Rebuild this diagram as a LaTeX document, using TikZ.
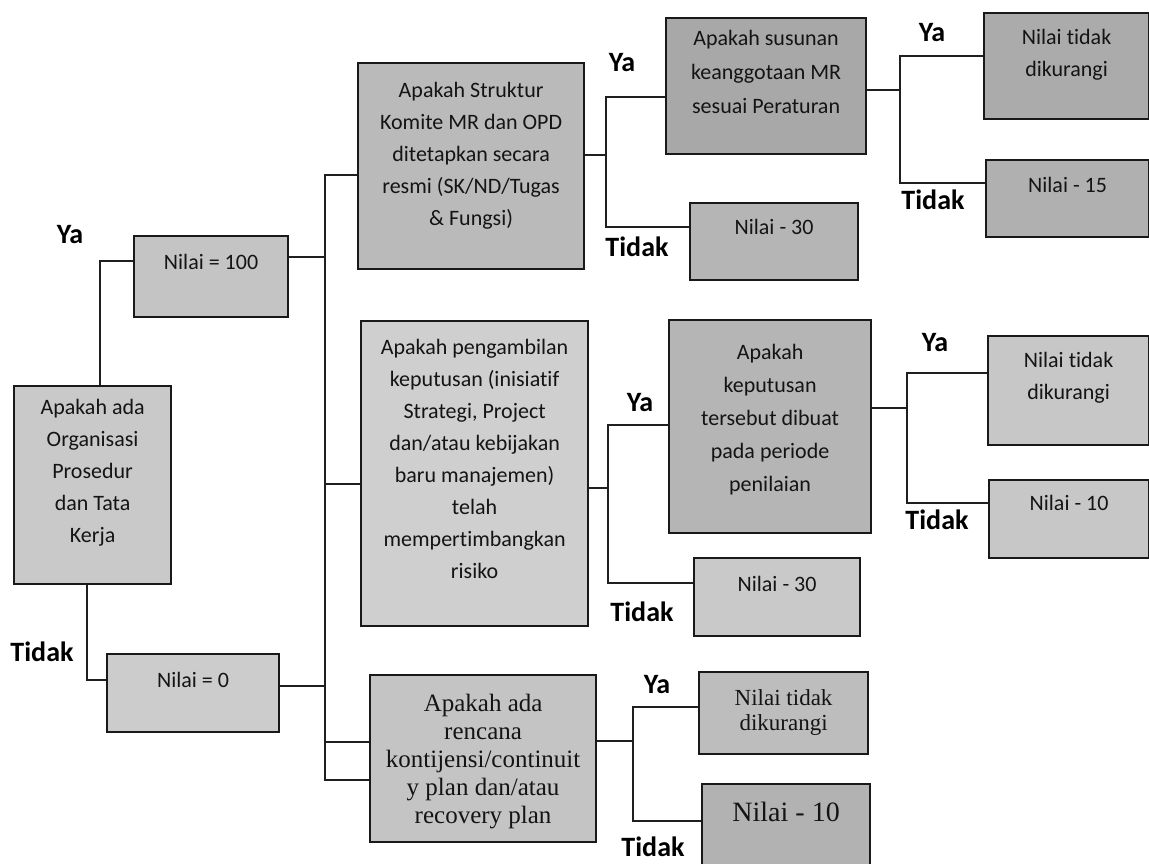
\documentclass[tikz,border=0pt]{standalone}
\usepackage{fontspec}
\setmainfont{Carlito}[Ligatures={NoCommon,NoContextual},Contextuals={NoAlternate}]
\newfontfamily\serifbox{Liberation Serif}
\usetikzlibrary{calc}
\newcommand{\bxt}[5]{\parbox[c][#2][t]{#1}{\centering#4\rule{0pt}{#3}#5\par}}
\newcommand{\fC}{\fontsize{22}{32}\selectfont}
\newcommand{\fK}{\fontsize{22}{33}\selectfont}
\tikzset{
  bnode/.style={draw=black!90, line width=2.2pt, inner sep=0pt, anchor=north west, fill=#1, text=black!92},
  conn/.style={draw=black!88, line width=2pt, line join=miter},
  lbl/.style={font=\fontsize{28}{30}\selectfont\bfseries, inner sep=0pt, text=black}
}
\begin{document}
\begin{tikzpicture}[x=1pt,y=-1pt]
\useasboundingbox (0,0) rectangle (1149,864);
\clip (0,0) rectangle (1149,864);
\fill[white] (0,0) rectangle (1149,864);

% boxes
\node[bnode=black!21] (A) at (13,385) {\bxt{157pt}{198pt}{28pt}{\fC}{Apakah ada\\Organisasi\\Prosedur\\dan Tata\\Kerja}};
\node[bnode=black!23] (N100) at (133,235) {\bxt{154pt}{81pt}{33pt}{\fC}{Nilai = 100}};
\node[bnode=black!20] (N0) at (106,653) {\bxt{172pt}{78pt}{33pt}{\fC}{Nilai = 0}};
\node[bnode=black!27] (S) at (357,62) {\bxt{226pt}{206pt}{34pt}{\fC}{Apakah Struktur\\Komite MR dan OPD\\ditetapkan secara\\resmi (SK/ND/Tugas\\\& Fungsi)}};
\node[bnode=black!34] (Su) at (665,17) {\bxt{200pt}{136pt}{27pt}{\fontsize{22}{34}\selectfont}{Apakah susunan\\keanggotaan MR\\sesuai Peraturan}};
\node[bnode=black!33] (NTa) at (983,12) {\bxt{165pt}{106pt}{31pt}{\fC}{Nilai t\kern0pt idak\\dikurangi}};
\node[bnode=black!31] (N15) at (985,159) {\bxt{163pt}{77pt}{32pt}{\fC}{Nilai - 15}};
\node[bnode=black!29] (N30a) at (689,202) {\bxt{168pt}{77pt}{31pt}{\fC}{Nilai - 30}};
\node[bnode=black!19] (P) at (360,320) {\bxt{227pt}{305pt}{33pt}{\fC}{Apakah pengambilan\\keputusan (inisiat\kern0pt if\\Strategi, Project\\dan/atau kebijakan\\baru manajemen)\\telah\\mempert\kern0pt imbangkan\\risiko}};
\node[bnode=black!29] (K) at (668,319) {\bxt{202pt}{213pt}{39pt}{\fK}{Apakah\\keputusan\\tersebut dibuat\\pada periode\\penilaian}};
\node[bnode=black!22] (NTb) at (987,335) {\bxt{161pt}{109pt}{31pt}{\fC}{Nilai t\kern0pt idak\\dikurangi}};
\node[bnode=black!22] (N10a) at (988,479) {\bxt{160pt}{78pt}{30pt}{\fC}{Nilai - 10}};
\node[bnode=black!21] (N30b) at (693,557) {\bxt{166pt}{78pt}{33pt}{\fC}{Nilai - 30}};
\node[bnode=black!23] (R) at (369,674) {\bxt{226pt}{167pt}{36pt}{\serifbox\fontsize{25}{28}\selectfont}{Apakah ada\\rencana\\kontijensi/continuit\\y plan dan/atau\\recovery plan}};
\node[bnode=black!26] (NTc) at (698,671) {\bxt{169pt}{82pt}{33pt}{\serifbox\fontsize{23}{25}\selectfont}{Nilai tidak\\dikurangi}};
\node[bnode=black!30] (N10b) at (701,783) {\bxt{168pt}{95pt}{37pt}{\serifbox\fontsize{28}{30}\selectfont}{Nilai - 10}};

% labels
\node[lbl] (lY0) at (70,235) {Ya};
\node[lbl] (lT0) at (42,652) {Tidak};
\node[lbl] (lY1) at (622,63) {Ya};
\node[lbl] (lT1) at (637,247) {Tidak};
\node[lbl] (lY2) at (932,33) {Ya};
\node[lbl] (lT2) at (933,200) {Tidak};
\node[lbl] (lY3) at (640,403) {Ya};
\node[lbl] (lT3) at (642,612) {Tidak};
\node[lbl] (lY4) at (935,343) {Ya};
\node[lbl] (lT4) at (937,520) {Tidak};
\node[lbl] (lY5) at (657,685) {Ya};
\node[lbl] (lT5) at (653,847) {Tidak};

% left connectors
\coordinate (aT) at (100,261);
\draw[conn] (A.north -| aT) |- (N100.west |- aT);
\coordinate (aB) at (87,680);
\draw[conn] (A.south -| aB) |- (N0.west |- aB);

% main bus
\coordinate (b1) at (325,175);
\coordinate (b2) at (325,780);
\draw[conn] (S.west |- b1) -- (b1) -- (b2) -- (R.west |- b2);
\coordinate (j100) at (325,257);
\draw[conn] (N100.east |- j100) -- (j100);
\coordinate (jP) at (325,484);
\draw[conn] (jP) -- (P.west |- jP);
\coordinate (j0) at (325,686);
\draw[conn] (N0.east |- j0) -- (j0);
\coordinate (jR) at (325,742);
\draw[conn] (jR) -- (R.west |- jR);

% S branch
\coordinate (sJ) at (606,155);
\coordinate (sY) at (606,97);
\coordinate (sT) at (606,227);
\draw[conn] (S.east |- sJ) -- (sJ);
\draw[conn] (Su.west |- sY) -- (sY) -- (sT) -- (N30a.west |- sT);

% Susunan branch
\coordinate (uJ) at (900,90);
\coordinate (uY) at (900,56);
\coordinate (uT) at (900,183);
\draw[conn] (Su.east |- uJ) -- (uJ);
\draw[conn] (NTa.west |- uY) -- (uY) -- (uT) -- (N15.west |- uT);

% P branch
\coordinate (pJ) at (608,488);
\coordinate (pY) at (608,425);
\coordinate (pT) at (608,583);
\draw[conn] (P.east |- pJ) -- (pJ);
\draw[conn] (K.west |- pY) -- (pY) -- (pT) -- (N30b.west |- pT);

% K branch
\coordinate (kJ) at (907,408);
\coordinate (kY) at (907,373);
\coordinate (kT) at (907,503);
\draw[conn] (K.east |- kJ) -- (kJ);
\draw[conn] (NTb.west |- kY) -- (kY) -- (kT) -- (N10a.west |- kT);

% R branch
\coordinate (rJ) at (633,741);
\coordinate (rY) at (633,707);
\coordinate (rT) at (633,821);
\draw[conn] (R.east |- rJ) -- (rJ);
\draw[conn] (NTc.west |- rY) -- (rY) -- (rT) -- (N10b.west |- rT);
\end{tikzpicture}
\end{document}
